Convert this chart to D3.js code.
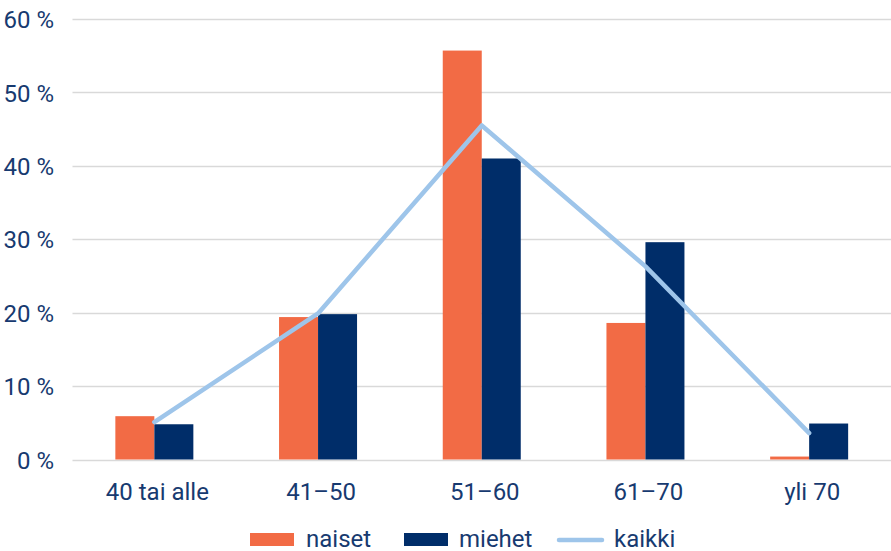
<!DOCTYPE html>
<html>
<head>
<meta charset="utf-8">
<script src="https://cdn.jsdelivr.net/npm/d3@7"></script>
<style>
  html, body { margin: 0; padding: 0; background: #fff; }
  svg text { font-family: Roboto, "Noto Sans", sans-serif; fill: #173a70; }
</style>
</head>
<body>
<svg id="chart" width="891" height="551"></svg>
<script>
// Age groups and shares (%)
const categories = ["40 tai alle", "41–50", "51–60", "61–70", "yli 70"];
const naiset = [5.9, 19.4, 55.7, 18.6, 0.4];
const miehet = [4.8, 19.8, 41.0, 29.6, 4.9];
const kaikki = [5.1, 19.9, 45.5, 26.3, 3.6];
const yTicks = [0, 10, 20, 30, 40, 50, 60];
const seriesNames = ["naiset", "miehet", "kaikki"];

const colors = { naiset: "#f26b45", miehet: "#002d69", kaikki: "#9ec5ea" };

const svg = d3.select("#chart");
const margin = { left: 72.5, right: 0, top: 19, bottom: 91.5 };
const W = 891, H = 551;
const fontSize = 24;

const x = d3.scaleBand().domain(categories)
  .range([margin.left, W - margin.right]).paddingInner(0).paddingOuter(0);
const y = d3.scaleLinear().domain([0, 60]).range([H - margin.bottom, margin.top]);

const barW = 39;
const xs = d3.scaleBand().domain(["naiset", "miehet"]).range([0, barW * 2]);

// Gridlines
svg.append("g").selectAll("line").data(yTicks).join("line")
  .attr("x1", margin.left).attr("x2", W - margin.right)
  .attr("y1", d => Math.round(y(d)) + 0.5).attr("y2", d => Math.round(y(d)) + 0.5)
  .attr("stroke", "#d9d9d9").attr("stroke-width", 1.5);

// Y axis labels, right-aligned
const yAxis = d3.axisLeft(y).tickValues(yTicks).tickSize(0).tickPadding(0)
  .tickFormat(d => d + " %");
const yg = svg.append("g").attr("transform", `translate(54,0)`).call(yAxis);
yg.select(".domain").remove();
yg.selectAll("text").attr("text-anchor", "end").attr("font-size", fontSize)
  .attr("dy", "0.36em").style("font-family", "Roboto, sans-serif");

// Bars
const groups = svg.append("g").selectAll("g").data(categories).join("g")
  .attr("transform", c => `translate(${x(c) + x.bandwidth() / 2 - barW},0)`);
groups.each(function (c, i) {
  const g = d3.select(this);
  [["naiset", naiset[i]], ["miehet", miehet[i]]].forEach(([k, v]) => {
    g.append("rect")
      .attr("x", xs(k)).attr("width", xs.bandwidth())
      .attr("y", y(v)).attr("height", y(0) - y(v))
      .attr("fill", colors[k]);
  });
});

// Total line
const line = d3.line()
  .x((d, i) => x(categories[i]) + x.bandwidth() / 2)
  .y(d => y(d));
svg.append("path").datum(kaikki).attr("d", line)
  .attr("fill", "none").attr("stroke", colors.kaikki)
  .attr("stroke-width", 4.5).attr("stroke-linejoin", "round").attr("stroke-linecap", "round");

// X axis labels
const xAxis = d3.axisBottom(x).tickSize(0).tickPadding(0);
const xg = svg.append("g").attr("transform", `translate(3,${y(0) + 40})`).call(xAxis);
xg.select(".domain").remove();
xg.selectAll("text").attr("font-size", fontSize).attr("dy", 0)
  .style("font-family", "Roboto, sans-serif");

// Legend
const legend = svg.append("g");
const legendItems = [
  { key: "naiset", sx: 250, tx: 306 },
  { key: "miehet", sx: 404, tx: 459 },
  { key: "kaikki", sx: 557, tx: 614 }
];
legendItems.forEach(it => {
  if (it.key === "kaikki") {
    legend.append("line").attr("x1", it.sx + 2).attr("x2", it.sx + 45)
      .attr("y1", 540).attr("y2", 540)
      .attr("stroke", colors.kaikki).attr("stroke-width", 4.5).attr("stroke-linecap", "round");
  } else {
    legend.append("rect").attr("x", it.sx).attr("y", 533).attr("width", 44).attr("height", 13)
      .attr("fill", colors[it.key]);
  }
  legend.append("text").attr("x", it.tx).attr("y", 547).attr("font-size", fontSize)
    .text(it.key);
});
</script>
</body>
</html>
